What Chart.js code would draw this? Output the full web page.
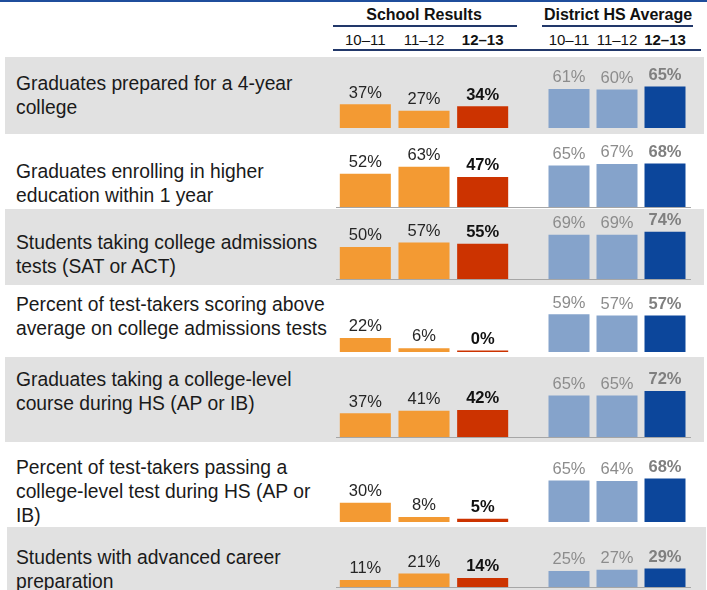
<!DOCTYPE html>
<html>
<head>
<meta charset="utf-8">
<script src="https://cdn.jsdelivr.net/npm/chart.js@4"></script>
<style>
  body { margin: 0; background: #fff; font-family: "Liberation Sans", Arial, sans-serif; }
  #page { position: relative; width: 707px; height: 590px; overflow: hidden; }
  .abs { position: absolute; }
  .band { position: absolute; background: #e1e1e1; }
  .rowlabel { position: absolute; left: 16px; font-size: 19.3px; line-height: 24px; color: #1a1a1a; white-space: pre; }
  .head { position: absolute; top: 6px; font-size: 16px; font-weight: bold; color: #111; text-align: center; }
  .rule { position: absolute; height: 1.5px; background: #22386a; }
  .year { position: absolute; top: 31px; font-size: 15px; color: #111; text-align: center; }
  .base { position: absolute; height: 1px; background: #a6a6a6; left: 336px; width: 355px; }
  canvas { position: absolute; }
</style>
</head>
<body>
<div id="page"></div>
<script>
// ---- data ----
const rowLabels = [
  "Graduates prepared for a 4-year\ncollege",
  "Graduates enrolling in higher\neducation within 1 year",
  "Students taking college admissions\ntests (SAT or ACT)",
  "Percent of test-takers scoring above\naverage on college admissions tests",
  "Graduates taking a college-level\ncourse during HS (AP or IB)",
  "Percent of test-takers passing a\ncollege-level test during HS (AP or\nIB)",
  "Students with advanced career\npreparation"
];
const years = ["10–11", "11–12", "12–13"];
const school1011 = [37, 52, 50, 22, 37, 30, 11];
const school1112 = [27, 63, 57, 6, 41, 8, 21];
const school1213 = [34, 47, 55, 0, 42, 5, 14];
const district1011 = [61, 65, 69, 59, 65, 65, 25];
const district1112 = [60, 67, 69, 57, 65, 64, 27];
const district1213 = [65, 68, 74, 57, 72, 68, 29];

// ---- layout ----
const rows = [
  { top: 57,  bottom: 134, base: 128, text: 72,  shade: true,  line: false },
  { top: 134, bottom: 209, base: 207, text: 160, shade: false, line: true },
  { top: 209, bottom: 285, base: 279, text: 231, shade: true,  line: true },
  { top: 285, bottom: 357, base: 352, text: 293, shade: false, line: false },
  { top: 357, bottom: 442, base: 437, text: 368, shade: true,  line: true },
  { top: 442, bottom: 527, base: 522, text: 456, shade: false, line: false },
  { top: 527, bottom: 595, base: 587, text: 546, shade: true,  line: true }
];
const PX_PER_PCT = 0.64;
const CANVAS_H = 80;
const school = { left: 336, width: 176, barPct: 0.87, colors: ['#f39a33', '#f39a33', '#cc3300'], text: ['#262626', '#262626', '#111111'] };
const district = { left: 545, width: 144, barPct: 0.854, colors: ['#85a3cb', '#85a3cb', '#0c469b'], text: ['#8c8c8c', '#8c8c8c', '#7f7f7f'] };

const page = document.getElementById('page');
function el(cls, css, txt) {
  const d = document.createElement('div');
  d.className = cls;
  Object.assign(d.style, css);
  if (txt !== undefined) d.textContent = txt;
  page.appendChild(d);
  return d;
}

// top blue strip
el('abs', { left: '0px', top: '0px', width: '707px', height: '2px', background: '#1f4e9c' });

// header
el('head', { left: '336px', width: '176px' }, 'School Results');
el('head', { left: '540px', width: '156px' }, 'District HS Average');
el('rule', { left: '333px', width: '184px', top: '25px' });
el('rule', { left: '542px', width: '151px', top: '25px' });
el('rule', { left: '333px', width: '368px', top: '49px' });
[school, district].forEach(g => {
  const w = g.width / years.length;
  years.forEach((y, i) => {
    const d = el('year', { left: (g.left + i * w) + 'px', width: w + 'px' }, y);
    if (i === 2) d.style.fontWeight = 'bold';
  });
});

// rows
rows.forEach((r, k) => {
  if (r.shade) {
    el('band', { left: k === 6 ? '7px' : '5px', top: r.top + 'px', width: '699px', height: (r.bottom - r.top) + 'px' });
  }
  if (r.line) el('base', { top: r.base + 'px' });
  el('rowlabel', { top: r.text + 'px' }, rowLabels[k]);
});

const valueLabels = {
  id: 'valueLabels',
  afterDatasetsDraw(chart, args, opts) {
    const ctx = chart.ctx;
    const ds = chart.data.datasets[0];
    chart.getDatasetMeta(0).data.forEach((bar, i) => {
      ctx.save();
      ctx.font = (i === 2 ? 'bold ' : '') + '16.5px "Liberation Sans"';
      ctx.fillStyle = opts.colors[i];
      ctx.textAlign = 'center';
      ctx.textBaseline = 'bottom';
      ctx.fillText(ds.data[i] + '%', bar.x, bar.y - 3);
      ctx.restore();
    });
  }
};

function makeChart(g, values, base) {
  const c = document.createElement('canvas');
  c.width = g.width;
  c.height = CANVAS_H;
  c.style.left = g.left + 'px';
  c.style.top = (base - CANVAS_H) + 'px';
  c.style.width = g.width + 'px';
  c.style.height = CANVAS_H + 'px';
  page.appendChild(c);
  new Chart(c, {
    type: 'bar',
    data: {
      labels: years,
      datasets: [{
        data: values,
        backgroundColor: g.colors,
        barPercentage: g.barPct,
        categoryPercentage: 1,
        minBarLength: 1.5
      }]
    },
    options: {
      responsive: false,
      animation: false,
      devicePixelRatio: 1,
      layout: { padding: 0 },
      plugins: {
        legend: { display: false },
        tooltip: { enabled: false },
        valueLabels: { colors: g.text }
      },
      scales: {
        x: { display: false },
        y: { display: false, min: 0, max: CANVAS_H / PX_PER_PCT }
      }
    },
    plugins: [valueLabels]
  });
}

rows.forEach((r, k) => {
  makeChart(school, [school1011[k], school1112[k], school1213[k]], r.base);
  makeChart(district, [district1011[k], district1112[k], district1213[k]], r.base);
});
</script>
</body>
</html>
